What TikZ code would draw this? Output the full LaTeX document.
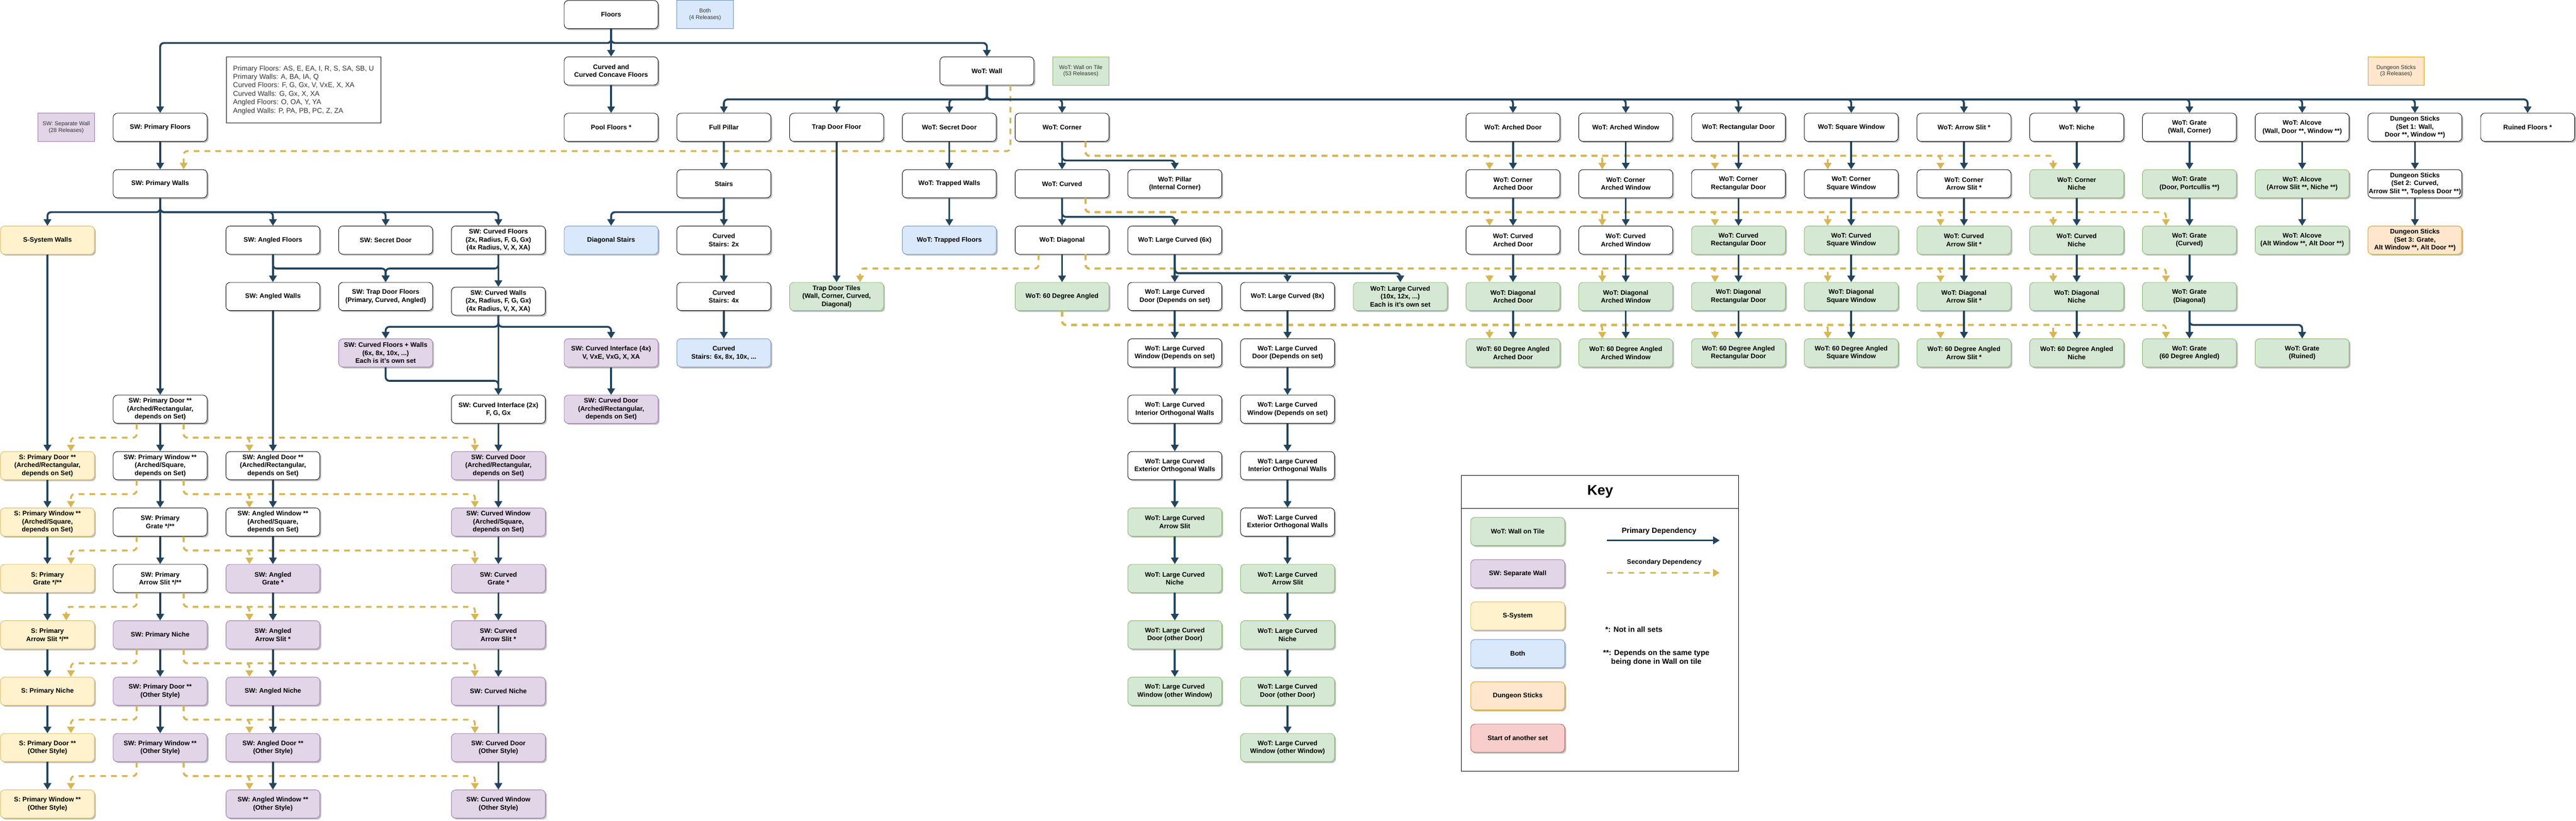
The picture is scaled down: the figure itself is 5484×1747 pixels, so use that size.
\documentclass[tikz,border=0pt]{standalone}
\usepackage{fontspec}
\setmainfont{Liberation Sans}
\usetikzlibrary{arrows.meta,shadows}
\definecolor{gF}{HTML}{D5E8D4}\definecolor{gD}{HTML}{82B366}
\definecolor{pF}{HTML}{E1D5E7}\definecolor{pD}{HTML}{9673A6}
\definecolor{yF}{HTML}{FFF2CC}\definecolor{yD}{HTML}{D6B656}
\definecolor{bF}{HTML}{DAE8FC}\definecolor{bD}{HTML}{6C8EBF}
\definecolor{oF}{HTML}{FFE6CC}\definecolor{oD}{HTML}{D79B00}
\definecolor{rF}{HTML}{F8CECC}\definecolor{rD}{HTML}{B85450}
\definecolor{priC}{HTML}{23445D}\definecolor{secC}{HTML}{D6B656}
\tikzset{
 nd/.style={rectangle, draw=black, fill=white, rounded corners=9pt, minimum width=200pt, minimum height=60pt, inner sep=1pt, align=center, font=\bfseries\fontsize{14pt}{17pt}\selectfont, line width=1pt, drop shadow={shadow xshift=3pt, shadow yshift=-3pt, fill=black!25, opacity=1}},
 ndG/.style={nd, fill=gF, draw=gD},
 ndP/.style={nd, fill=pF, draw=pD},
 ndY/.style={nd, fill=yF, draw=yD},
 ndB/.style={nd, fill=bF, draw=bD},
 ndO/.style={nd, fill=oF, draw=oD},
 ndR/.style={nd, fill=rF, draw=rD},
 rel/.style={rectangle, minimum width=120pt, minimum height=60pt, inner sep=1pt, align=center, font=\fontsize{12pt}{14pt}\selectfont, text=black!80, line width=1pt},
 pri/.style={draw=priC, line width=4pt, rounded corners=8pt, -{Triangle[width=16pt,length=14pt]}},
 sec/.style={draw=secC, line width=4pt, dash pattern=on 12pt off 11pt, rounded corners=8pt, -{Triangle[width=16pt,length=14pt]}},
}
\newcommand\edgeS[2]{\draw[pri] (#1.south) -- (#2.north);}
\newcommand\edgeB[3]{\draw[pri] (#1.south) -- ++(0,#3) -| (#2.north);}
\newcommand\edgeD[5]{\draw[sec] ([xshift=#2pt]#1.south) -- ++(0,#3) -| ([xshift=#5pt]#4.north);}
\begin{document}
\begin{tikzpicture}[x=1pt,y=-1pt]
\useasboundingbox (0,0) rectangle (5484,1747);
% ---------- release boxes and info ----------
\node[rel, fill=pF, draw=pD] (relsw) at (141,271) {SW: Separate Wall\\(28 Releases)};
\node[rel, fill=bF, draw=bD] (relboth) at (1501,31) {Both\\(4 Releases)};
\node[rel, fill=gF, draw=gD] (relwot) at (2301,151) {WoT: Wall on Tile\\(53 Releases)};
\node[rel, fill=oF, draw=oD] (relds) at (5101,151) {Dungeon Sticks\\(3 Releases)};
\node[draw=black, line width=1pt, anchor=north west, minimum width=330pt, minimum height=140pt, inner sep=0pt] (info) at (481,121) {};
\node[anchor=west, inner sep=0pt, align=left, text=black!80, font=\fontsize{15pt}{18pt}\selectfont] (infotext) at ([xshift=15pt]info.west) {Primary Floors: AS, E, EA, I, R, S, SA, SB, U\\Primary Walls: A, BA, IA, Q\\Curved Floors: F, G, Gx, V, VxE, X, XA\\Curved Walls: G, Gx, X, XA\\Angled Floors: O, OA, Y, YA\\Angled Walls: P, PA, PB, PC, Z, ZA};
% ---------- top ----------
\node[nd] (floors) at (1301,31) {Floors};
\node[nd] (curvedcc) at (1301,151) {Curved and\\Curved Concave Floors};
\node[nd] (pool) at (1301,271) {Pool Floors *};
\node[nd] (wall) at (2101,151) {WoT: Wall};
\node[nd] (swpf) at (341,271) {SW: Primary Floors};
\node[nd] (swpw) at (341,391) {SW: Primary Walls};
\node[ndY] (ssys) at (101,511) {S-System Walls};
\node[nd] (swaf) at (581,511) {SW: Angled Floors};
\node[nd] (swsd) at (821,511) {SW: Secret Door};
\node[nd] (swcf) at (1061,511) {SW: Curved Floors\\(2x, Radius, F, G, Gx)\\(4x Radius, V, X, XA)};
\node[ndB] (diagst) at (1301,511) {Diagonal Stairs};
\node[nd] (swaw) at (581,631) {SW: Angled Walls};
\node[nd] (swtd) at (821,631) {SW: Trap Door Floors\\(Primary, Curved, Angled)};
\node[nd] (swcw) at (1061,641) {SW: Curved Walls\\(2x, Radius, F, G, Gx)\\(4x Radius, V, X, XA)};
\node[ndP] (swcfw) at (821,751) {SW: Curved Floors + Walls\\(6x, 8x, 10x, ...)\\Each is it's own set};
\node[ndP] (swci4) at (1301,751) {SW: Curved Interface (4x)\\V, VxE, VxG, X, XA};
\node[ndP] (swcd4) at (1301,871) {SW: Curved Door\\(Arched/Rectangular,\\depends on Set)};
\node[nd] (swci2) at (1061,871) {SW: Curved Interface (2x)\\F, G, Gx};
\node[nd] (swpd) at (341,871) {SW: Primary Door **\\(Arched/Rectangular,\\depends on Set)};
% ---------- S column ----------
\node[ndY] (sP1) at (101,991) {S: Primary Door **\\(Arched/Rectangular,\\depends on Set)};
\node[ndY] (sP2) at (101,1111) {S: Primary Window **\\(Arched/Square,\\depends on Set)};
\node[ndY] (sP3) at (101,1231) {S: Primary\\Grate */**};
\node[ndY] (sP4) at (101,1351) {S: Primary\\Arrow Slit */**};
\node[ndY] (sP5) at (101,1471) {S: Primary Niche};
\node[ndY] (sP6) at (101,1591) {S: Primary Door **\\(Other Style)};
\node[ndY] (sP7) at (101,1711) {S: Primary Window **\\(Other Style)};
% ---------- SW primary column ----------
\node[nd] (pP1) at (341,991) {SW: Primary Window **\\(Arched/Square,\\depends on Set)};
\node[nd] (pP2) at (341,1111) {SW: Primary\\Grate */**};
\node[nd] (pP3) at (341,1231) {SW: Primary\\Arrow Slit */**};
\node[ndP] (pP4) at (341,1351) {SW: Primary Niche};
\node[ndP] (pP5) at (341,1471) {SW: Primary Door **\\(Other Style)};
\node[ndP] (pP6) at (341,1591) {SW: Primary Window **\\(Other Style)};
% ---------- angled column ----------
\node[nd] (aP1) at (581,991) {SW: Angled Door **\\(Arched/Rectangular,\\depends on Set)};
\node[nd] (aP2) at (581,1111) {SW: Angled Window **\\(Arched/Square,\\depends on Set)};
\node[ndP] (aP3) at (581,1231) {SW: Angled\\Grate *};
\node[ndP] (aP4) at (581,1351) {SW: Angled\\Arrow Slit *};
\node[ndP] (aP5) at (581,1471) {SW: Angled Niche};
\node[ndP] (aP6) at (581,1591) {SW: Angled Door **\\(Other Style)};
\node[ndP] (aP7) at (581,1711) {SW: Angled Window **\\(Other Style)};
% ---------- curved column ----------
\node[ndP] (cP1) at (1061,991) {SW: Curved Door\\(Arched/Rectangular,\\depends on Set)};
\node[ndP] (cP2) at (1061,1111) {SW: Curved Window\\(Arched/Square,\\depends on Set)};
\node[ndP] (cP3) at (1061,1231) {SW: Curved\\Grate *};
\node[ndP] (cP4) at (1061,1351) {SW: Curved\\Arrow Slit *};
\node[ndP] (cP5) at (1061,1471) {SW: Curved Niche};
\node[ndP] (cP6) at (1061,1591) {SW: Curved Door\\(Other Style)};
\node[ndP] (cP7) at (1061,1711) {SW: Curved Window\\(Other Style)};
% ---------- stairs / trap ----------
\node[nd] (fullp) at (1541,271) {Full Pillar};
\node[nd] (stairs) at (1541,391) {Stairs};
\node[nd] (cs2) at (1541,511) {Curved\\Stairs: 2x};
\node[nd] (cs4) at (1541,631) {Curved\\Stairs: 4x};
\node[ndB] (cs6) at (1541,751) {Curved\\Stairs: 6x, 8x, 10x, ...};
\node[nd] (tdf) at (1781,271) {Trap Door Floor};
\node[ndG] (tdt) at (1781,631) {Trap Door Tiles\\(Wall, Corner, Curved,\\Diagonal)};
\node[nd] (wsd) at (2021,271) {WoT: Secret Door};
\node[nd] (wtw) at (2021,391) {WoT: Trapped Walls};
\node[ndB] (wtf) at (2021,511) {WoT: Trapped Floors};
\node[nd] (wcor) at (2261,271) {WoT: Corner};
\node[nd] (wcur) at (2261,391) {WoT: Curved};
\node[nd] (wdia) at (2261,511) {WoT: Diagonal};
\node[ndG] (w60) at (2261,631) {WoT: 60 Degree Angled};
\node[nd] (wpil) at (2501,391) {WoT: Pillar\\(Internal Corner)};
% ---------- large curved ----------
\node[nd] (lc6) at (2501,511) {WoT: Large Curved (6x)};
\node[nd] (lc6d) at (2501,631) {WoT: Large Curved\\Door (Depends on set)};
\node[nd] (lc6w) at (2501,751) {WoT: Large Curved\\Window (Depends on set)};
\node[nd] (lc6i) at (2501,871) {WoT: Large Curved\\Interior Orthogonal Walls};
\node[nd] (lc6e) at (2501,991) {WoT: Large Curved\\Exterior Orthogonal Walls};
\node[ndG] (lc6a) at (2501,1111) {WoT: Large Curved\\Arrow Slit};
\node[ndG] (lc6n) at (2501,1231) {WoT: Large Curved\\Niche};
\node[ndG] (lc6od) at (2501,1351) {WoT: Large Curved\\Door (other Door)};
\node[ndG] (lc6ow) at (2501,1471) {WoT: Large Curved\\Window (other Window)};
\node[nd] (lc8) at (2741,631) {WoT: Large Curved (8x)};
\node[nd] (lc8d) at (2741,751) {WoT: Large Curved\\Door (Depends on set)};
\node[nd] (lc8w) at (2741,871) {WoT: Large Curved\\Window (Depends on set)};
\node[nd] (lc8i) at (2741,991) {WoT: Large Curved\\Interior Orthogonal Walls};
\node[nd] (lc8e) at (2741,1111) {WoT: Large Curved\\Exterior Orthogonal Walls};
\node[ndG] (lc8a) at (2741,1231) {WoT: Large Curved\\Arrow Slit};
\node[ndG] (lc8n) at (2741,1351) {WoT: Large Curved\\Niche};
\node[ndG] (lc8od) at (2741,1471) {WoT: Large Curved\\Door (other Door)};
\node[ndG] (lc8ow) at (2741,1591) {WoT: Large Curved\\Window (other Window)};
\node[ndG] (lc10) at (2981,631) {WoT: Large Curved\\(10x, 12x, ...)\\Each is it's own set};
% ---------- WoT families ----------
\node[nd] (ad0) at (3221,271) {WoT: Arched Door};
\node[nd] (ad1) at (3221,391) {WoT: Corner\\Arched Door};
\node[nd] (ad2) at (3221,511) {WoT: Curved\\Arched Door};
\node[ndG] (ad3) at (3221,631) {WoT: Diagonal\\Arched Door};
\node[ndG] (ad4) at (3221,751) {WoT: 60 Degree Angled\\Arched Door};
\node[nd] (aw0) at (3461,271) {WoT: Arched Window};
\node[nd] (aw1) at (3461,391) {WoT: Corner\\Arched Window};
\node[nd] (aw2) at (3461,511) {WoT: Curved\\Arched Window};
\node[ndG] (aw3) at (3461,631) {WoT: Diagonal\\Arched Window};
\node[ndG] (aw4) at (3461,751) {WoT: 60 Degree Angled\\Arched Window};
\node[nd] (rd0) at (3701,271) {WoT: Rectangular Door};
\node[nd] (rd1) at (3701,391) {WoT: Corner\\Rectangular Door};
\node[ndG] (rd2) at (3701,511) {WoT: Curved\\Rectangular Door};
\node[ndG] (rd3) at (3701,631) {WoT: Diagonal\\Rectangular Door};
\node[ndG] (rd4) at (3701,751) {WoT: 60 Degree Angled\\Rectangular Door};
\node[nd] (sq0) at (3941,271) {WoT: Square Window};
\node[nd] (sq1) at (3941,391) {WoT: Corner\\Square Window};
\node[ndG] (sq2) at (3941,511) {WoT: Curved\\Square Window};
\node[ndG] (sq3) at (3941,631) {WoT: Diagonal\\Square Window};
\node[ndG] (sq4) at (3941,751) {WoT: 60 Degree Angled\\Square Window};
\node[nd] (as0) at (4181,271) {WoT: Arrow Slit *};
\node[nd] (as1) at (4181,391) {WoT: Corner\\Arrow Slit *};
\node[ndG] (as2) at (4181,511) {WoT: Curved\\Arrow Slit *};
\node[ndG] (as3) at (4181,631) {WoT: Diagonal\\Arrow Slit *};
\node[ndG] (as4) at (4181,751) {WoT: 60 Degree Angled\\Arrow Slit *};
\node[nd] (ni0) at (4421,271) {WoT: Niche};
\node[ndG] (ni1) at (4421,391) {WoT: Corner\\Niche};
\node[ndG] (ni2) at (4421,511) {WoT: Curved\\Niche};
\node[ndG] (ni3) at (4421,631) {WoT: Diagonal\\Niche};
\node[ndG] (ni4) at (4421,751) {WoT: 60 Degree Angled\\Niche};
\node[nd] (gr0) at (4661,271) {WoT: Grate\\(Wall, Corner)};
\node[ndG] (gr1) at (4661,391) {WoT: Grate\\(Door, Portcullis **)};
\node[ndG] (gr2) at (4661,511) {WoT: Grate\\(Curved)};
\node[ndG] (gr3) at (4661,631) {WoT: Grate\\(Diagonal)};
\node[ndG] (gr4) at (4661,751) {WoT: Grate\\(60 Degree Angled)};
\node[ndG] (grR) at (4901,751) {WoT: Grate\\(Ruined)};
\node[nd] (al0) at (4901,271) {WoT: Alcove\\(Wall, Door **, Window **)};
\node[ndG] (al1) at (4901,391) {WoT: Alcove\\(Arrow Slit **, Niche **)};
\node[ndG] (al2) at (4901,511) {WoT: Alcove\\(Alt Window **, Alt Door **)};
\node[nd] (ds1) at (5141,271) {Dungeon Sticks\\(Set 1: Wall,\\Door **, Window **)};
\node[nd] (ds2) at (5141,391) {Dungeon Sticks\\(Set 2: Curved,\\Arrow Slit **, Topless Door **)};
\node[ndO] (ds3) at (5141,511) {Dungeon Sticks\\(Set 3: Grate,\\Alt Window **, Alt Door **)};
\node[nd] (ruin) at (5381,271) {Ruined Floors *};
% ---------- key ----------
\node[draw=black, line width=1pt, anchor=north west, minimum width=590pt, minimum height=70pt, inner sep=0pt, font=\bfseries\fontsize{30pt}{34pt}\selectfont] (keyhead) at (3111,1011) {Key};
\node[draw=black, line width=1pt, anchor=north west, minimum width=590pt, minimum height=560pt, inner sep=0pt] (keybody) at (3111,1081) {};
\node[ndG] (kg) at (3231,1131) {WoT: Wall on Tile};
\node[ndP] (kp) at (3231,1221) {SW: Separate Wall};
\node[ndY] (ky) at (3231,1311) {S-System};
\node[ndB] (kb) at (3231,1391) {Both};
\node[ndO] (ko) at (3231,1481) {Dungeon Sticks};
\node[ndR] (kr) at (3231,1571) {Start of another set};
\node[font=\bfseries\fontsize{16pt}{19pt}\selectfont] (kpt) at (3532,1131) {Primary Dependency};
\node[font=\bfseries\fontsize{14pt}{17pt}\selectfont] (kst) at (3543,1197) {Secondary Dependency};
\coordinate (kp1) at (3421,1150); \coordinate (kp2) at (3661,1150);
\coordinate (ks1) at (3421,1219); \coordinate (ks2) at (3661,1219);
\draw[pri] (kp1) -- (kp2);
\draw[sec] (ks1) -- (ks2);
\node[anchor=west, font=\bfseries\fontsize{16pt}{19pt}\selectfont] (kn1) at (3414,1340) {*: Not in all sets};
\node[align=center, font=\bfseries\fontsize{16pt}{19pt}\selectfont] (kn2) at (3526,1400) {**: Depends on the same type\\being done in Wall on tile};
% ---------- secondary (dashed) edges ----------
\edgeD{wall}{50}{140}{swpw}{50}
\foreach \t in {ad1,aw1,rd1,sq1,as1,ni1} {\edgeD{wcor}{50}{30}{\t}{-50}}
\foreach \t in {ad2,aw2,rd2,sq2,as2,ni2,gr2} {\edgeD{wcur}{50}{30}{\t}{-50}}
\foreach \t in {ad3,aw3,rd3,sq3,as3,ni3,gr3} {\edgeD{wdia}{50}{30}{\t}{-50}}
\foreach \t in {ad4,aw4,rd4,sq4,as4,ni4,gr4} {\edgeD{w60}{0}{30}{\t}{-50}}
\edgeD{wdia}{-50}{30}{tdt}{50}
\edgeD{swpd}{-50}{30}{sP1}{50}
\edgeD{swpd}{50}{30}{aP1}{-50}
\edgeD{swpd}{50}{30}{cP1}{-50}
\edgeD{pP1}{-50}{30}{sP2}{50}
\edgeD{pP1}{50}{30}{aP2}{-50}
\edgeD{pP1}{50}{30}{cP2}{-50}
\edgeD{pP2}{-50}{30}{sP3}{50}
\edgeD{pP2}{50}{30}{aP3}{-50}
\edgeD{pP2}{50}{30}{cP3}{-50}
\edgeD{pP3}{-50}{30}{sP4}{40}
\edgeD{pP3}{50}{30}{aP4}{-50}
\edgeD{pP3}{50}{30}{cP4}{-50}
\edgeD{pP4}{-50}{30}{sP5}{50}
\edgeD{pP4}{50}{30}{aP5}{-50}
\edgeD{pP4}{50}{30}{cP5}{-50}
\edgeD{pP5}{-50}{30}{sP6}{50}
\edgeD{pP5}{50}{30}{aP6}{-50}
\edgeD{pP5}{50}{30}{cP6}{-50}
\edgeD{pP6}{-50}{30}{sP7}{50}
\edgeD{pP6}{50}{30}{aP7}{-50}
\edgeD{pP6}{50}{30}{cP7}{-50}
% ---------- primary edges ----------
\edgeS{floors}{curvedcc}
\edgeB{floors}{swpf}{30}
\edgeB{floors}{wall}{30}
\edgeS{curvedcc}{pool}
\edgeS{swpf}{swpw}
\foreach \t in {ssys,swaf,swsd,swcf} {\edgeB{swpw}{\t}{30}}
\edgeS{swpw}{swpd}
\edgeS{swaf}{swaw}
\edgeB{swaf}{swtd}{30}
\edgeB{swcf}{swtd}{30}
\edgeS{swcf}{swcw}
\edgeB{swcw}{swcfw}{24}
\edgeB{swcw}{swci4}{24}
\edgeS{swcw}{swci2}
\edgeB{swcfw}{swci2}{29}
\edgeS{swci4}{swcd4}
\edgeS{swci2}{cP1}
\edgeS{ssys}{sP1}
\edgeS{swaw}{aP1}
\edgeS{sP1}{sP2}\edgeS{sP2}{sP3}\edgeS{sP3}{sP4}\edgeS{sP4}{sP5}\edgeS{sP5}{sP6}\edgeS{sP6}{sP7}
\edgeS{swpd}{pP1}\edgeS{pP1}{pP2}\edgeS{pP2}{pP3}\edgeS{pP3}{pP4}\edgeS{pP4}{pP5}\edgeS{pP5}{pP6}
\edgeS{aP1}{aP2}\edgeS{aP2}{aP3}\edgeS{aP3}{aP4}\edgeS{aP4}{aP5}\edgeS{aP5}{aP6}\edgeS{aP6}{aP7}
\edgeS{cP1}{cP2}\edgeS{cP2}{cP3}\edgeS{cP3}{cP4}\edgeS{cP4}{cP5}\edgeS{cP6}{cP7}
\draw[pri,-] (cP5.south) -- (cP6.north);
\foreach \t in {fullp,tdf,wsd,wcor,ad0,aw0,rd0,sq0,as0,ni0,gr0,al0,ds1,ruin} {\edgeB{wall}{\t}{30}}
\edgeS{fullp}{stairs}
\edgeS{stairs}{cs2}
\edgeB{stairs}{diagst}{30}
\edgeS{cs2}{cs4}\edgeS{cs4}{cs6}
\edgeS{tdf}{tdt}
\edgeS{wsd}{wtw}\edgeS{wtw}{wtf}
\edgeS{wcor}{wcur}
\edgeB{wcor}{wpil}{40}
\edgeS{wcur}{wdia}
\edgeB{wcur}{lc6}{40}
\edgeS{wdia}{w60}
\edgeS{lc6}{lc6d}
\edgeB{lc6}{lc8}{40}
\edgeB{lc6}{lc10}{40}
\edgeS{lc6d}{lc6w}\edgeS{lc6w}{lc6i}\edgeS{lc6i}{lc6e}\edgeS{lc6e}{lc6a}\edgeS{lc6a}{lc6n}\edgeS{lc6n}{lc6od}\edgeS{lc6od}{lc6ow}
\edgeS{lc8}{lc8d}\edgeS{lc8d}{lc8w}\edgeS{lc8w}{lc8i}\edgeS{lc8i}{lc8e}\edgeS{lc8e}{lc8a}\edgeS{lc8a}{lc8n}\edgeS{lc8n}{lc8od}\edgeS{lc8od}{lc8ow}
\foreach \f in {ad,aw,rd,sq,as,ni,gr} {\edgeS{\f0}{\f1}\edgeS{\f1}{\f2}\edgeS{\f2}{\f3}\edgeS{\f3}{\f4}}
\edgeB{gr3}{grR}{30}
\edgeS{al0}{al1}\edgeS{al1}{al2}
\edgeS{ds1}{ds2}\edgeS{ds2}{ds3}
\end{tikzpicture}
\end{document}
